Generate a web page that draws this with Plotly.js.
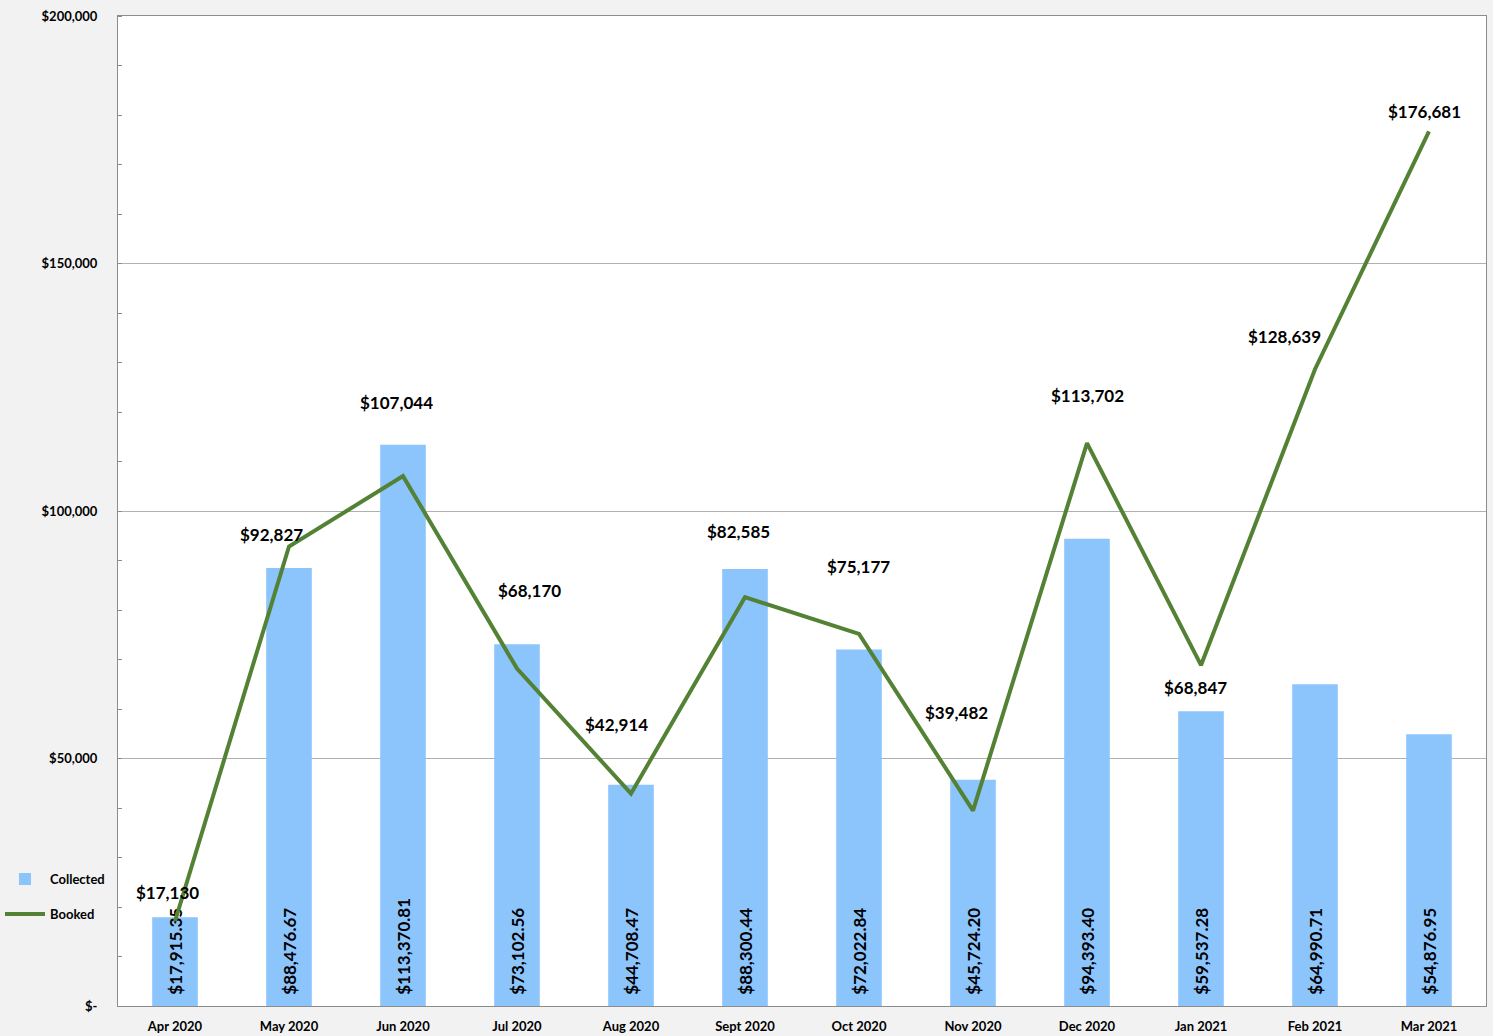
<!DOCTYPE html>
<html>
<head>
<meta charset="utf-8">
<script src="https://cdn.plot.ly/plotly-3.0.1.min.js"></script>
<style>html,body{margin:0;padding:0;background:#f2f2f2;}#chart{width:1493px;height:1036px;}</style>
</head>
<body>
<div id="chart"></div>
<script>
var months = ["Apr 2020","May 2020","Jun 2020","Jul 2020","Aug 2020","Sept 2020","Oct 2020","Nov 2020","Dec 2020","Jan 2021","Feb 2021","Mar 2021"];
var collected = [17915.35, 88476.67, 113370.81, 73102.56, 44708.47, 88300.44, 72022.84, 45724.20, 94393.40, 59537.28, 64990.71, 54876.95];
var booked = [17130, 92827, 107044, 68170, 42914, 82585, 75177, 39482, 113702, 68847, 128639, 176681];
var yTickVals = [0, 50000, 100000, 150000, 200000];
var yTickText = ["$-", "$50,000", "$100,000", "$150,000", "$200,000"];

// label placement offsets (pixels) for the Booked data labels
var labelShiftX = [-8, -18, -7, 12, -15, -7, -1, -17, 0, -6, -31, -5];
var labelShiftY = [29, 12, 74, 78, 69, 66, 67, 98, 48, -22, 33, 20];

function fmtMoney(v, dec) {
  return "$" + v.toLocaleString("en-US", {minimumFractionDigits: dec, maximumFractionDigits: dec});
}

var FONT = "Lato, 'Open Sans', sans-serif";

var barTrace = {
  type: "bar",
  name: "Collected",
  x: months,
  y: collected,
  marker: {color: "#8cc4fc"},
  width: 0.4,
  text: collected.map(function(v){ return "\u00a0\u00a0" + fmtMoney(v, 2); }),
  textposition: "inside",
  insidetextanchor: "start",
  textangle: -90,
  constraintext: "none",
  cliponaxis: false,
  textfont: {family: FONT, size: 17, color: "#000000", weight: "bold"},
  hoverinfo: "skip",
  legend: "legend"
};

var lineTrace = {
  type: "scatter",
  mode: "lines",
  name: "Booked",
  x: months,
  y: booked,
  line: {color: "#548235", width: 4},
  hoverinfo: "skip",
  legend: "legend2"
};

var annotations = booked.map(function(v, i){
  return {
    x: months[i], y: v, xref: "x", yref: "y",
    text: "<b>" + fmtMoney(v, 0) + "</b>",
    showarrow: false,
    xshift: labelShiftX[i],
    yshift: labelShiftY[i],
    font: {family: FONT, size: 17, color: "#000000"}
  };
});

var layout = {
  width: 1493,
  height: 1036,
  margin: {l: 118, r: 7, t: 16, b: 30, pad: 0, autoexpand: false},
  paper_bgcolor: "#f2f2f2",
  plot_bgcolor: "#ffffff",
  showlegend: true,
  bargap: 0.6,
  xaxis: {
    type: "category",
    automargin: false,
    showline: true,
    linecolor: "#8c8c8c",
    linewidth: 1,
    mirror: true,
    ticks: "",
    tickfont: {family: FONT, size: 13, color: "#000000", weight: "bold"},
    ticklabelstandoff: 8,
    showgrid: false,
    fixedrange: true
  },
  yaxis: {
    range: [0, 200000],
    automargin: false,
    tickvals: yTickVals,
    ticktext: yTickText,
    showline: true,
    linecolor: "#8c8c8c",
    linewidth: 1,
    mirror: true,
    showgrid: true,
    gridcolor: "#b0b0b0",
    gridwidth: 1,
    ticks: "",
    tickfont: {family: FONT, size: 13, color: "#000000", weight: "bold"},
    ticklabelstandoff: 17,
    zeroline: false,
    minor: {dtick: 10000, ticks: "inside", ticklen: 4, tickcolor: "#8c8c8c", showgrid: false},
    fixedrange: true
  },
  legend: {
    xref: "container", yref: "container",
    x: 0.0, y: 0.1515, xanchor: "left", yanchor: "middle",
    bgcolor: "rgba(0,0,0,0)",
    font: {family: FONT, size: 13, color: "#000000", weight: "bold"},
    itemwidth: 40
  },
  legend2: {
    xref: "container", yref: "container",
    x: 0.0, y: 0.1178, xanchor: "left", yanchor: "middle",
    bgcolor: "rgba(0,0,0,0)",
    font: {family: FONT, size: 13, color: "#000000", weight: "bold"},
    itemwidth: 40
  },
  annotations: annotations
};

Plotly.newPlot("chart", [barTrace, lineTrace], layout, {displayModeBar: false, staticPlot: true});
</script>
</body>
</html>
